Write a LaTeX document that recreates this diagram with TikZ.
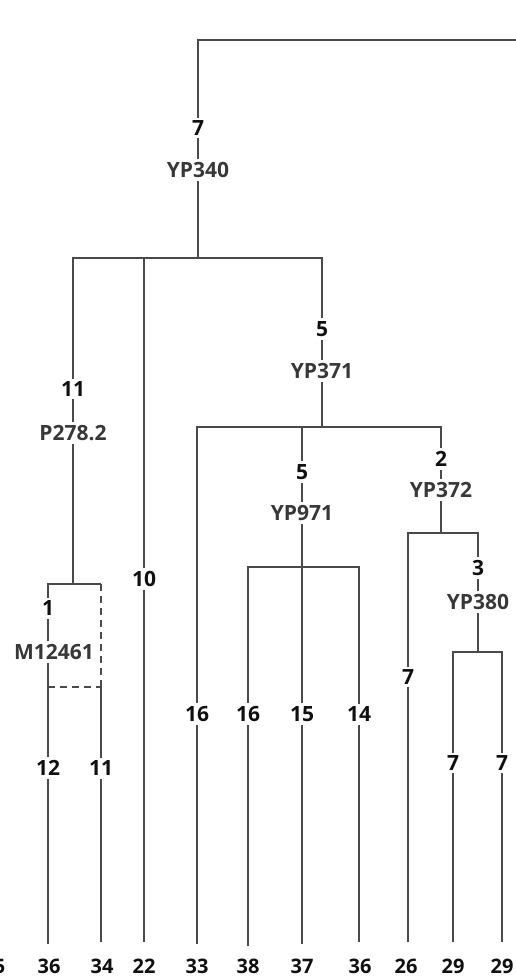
\documentclass[tikz,border=0pt]{standalone}
\usepackage{fontspec}
\setmainfont{Open Sans}
\definecolor{edgec}{HTML}{4A4A4A}
\definecolor{namec}{HTML}{383838}
\definecolor{numc}{HTML}{101010}
\begin{document}
\begin{tikzpicture}[x=1pt,y=-1pt,
  edge/.style={draw=edgec,line width=2.4pt},
  dashedge/.style={edge,dash pattern=on 7pt off 5pt},
  lbl/.style={fill=white,inner xsep=1.5pt,inner ysep=3pt,font=\fontsize{21}{23}\selectfont\bfseries},
  num/.style={lbl,text=numc},
  nm/.style={lbl,text=namec},
  leaf/.style={inner sep=0.5pt,text depth=0pt,font=\fontsize{20}{22}\selectfont\bfseries,text=numc}]
\useasboundingbox (0,0) rectangle (516,979);
\fill[white] (0,0) rectangle (516,979);

% junction coordinates
\coordinate (tr) at (520,40);
\coordinate (tl) at (198,40);
\coordinate (j340) at (198,258);
\coordinate (j340L) at (73,258);
\coordinate (j340M) at (144,258);
\coordinate (j340R) at (322,258);
\coordinate (j278) at (73,584);
\coordinate (j278L) at (48,584);
\coordinate (j278R) at (101,584);
\coordinate (dL) at (48,687);
\coordinate (dR) at (101,687);
\coordinate (j371) at (322,427);
\coordinate (j371L) at (197,427);
\coordinate (j371M) at (302,427);
\coordinate (j371R) at (441,427);
\coordinate (j971) at (302,567);
\coordinate (j971L) at (248,567);
\coordinate (j971R) at (359,567);
\coordinate (j372) at (441,533);
\coordinate (j372L) at (408,533);
\coordinate (j372R) at (478,533);
\coordinate (j380) at (478,652);
\coordinate (j380L) at (453,652);
\coordinate (j380R) at (502,652);
% leaf ends
\coordinate (e1) at (48,944);
\coordinate (e2) at (101,942);
\coordinate (e3) at (144,942);
\coordinate (e4) at (197,944);
\coordinate (e5) at (248,946);
\coordinate (e6) at (302,944);
\coordinate (e7) at (359,942);
\coordinate (e8) at (408,942);
\coordinate (e9) at (453,942);
\coordinate (e10) at (502,942);

% branches
\draw[edge] (tr) -- (tl) -- (j340);
\draw[edge] (j278) -- (j340L) -- (j340R) -- (j371);
\draw[edge] (j340M) -- (e3);
\draw[edge] (e1) -- (j278L) -- (j278R);
\draw[dashedge] (j278R) -- (dR);
\draw[dashedge] (dL) -- (dR);
\draw[edge] (dR) -- (e2);
\draw[edge] (e4) -- (j371L) -- (j371R) -- (j372);
\draw[edge] (j371M) -- (e6);
\draw[edge] (e5) -- (j971L) -- (j971R) -- (e7);
\draw[edge] (e8) -- (j372L) -- (j372R) -- (j380);
\draw[edge] (e9) -- (j380L) -- (j380R) -- (e10);

% branch labels
\node[num] (b340) at (198,128) {7};
\node[nm]  (n340) at (198,170) {YP340};
\node[num] (b278) at (73,389) {11};
\node[nm]  (n278) at (73,433) {P278.2};
\node[num] (b22) at (144,579) {10};
\node[num] (b371) at (322,329) {5};
\node[nm]  (n371) at (322,371) {YP371};
\node[num] (b461) at (48,608) {1};
\node[nm,inner xsep=0.5pt] (n461) at (54,652) {M12461};
\node[num] (b36a) at (48,768) {12};
\node[num] (b34) at (101,768) {11};
\node[num] (b33) at (197,714) {16};
\node[num] (b971) at (302,472) {5};
\node[nm]  (n971) at (302,513) {YP971};
\node[num] (b38) at (248,714) {16};
\node[num] (b37) at (302,714) {15};
\node[num] (b36b) at (359,714) {14};
\node[num] (b372) at (441,459) {2};
\node[nm]  (n372) at (441,490) {YP372};
\node[num] (b26) at (408,677) {7};
\node[num] (b380) at (478,568) {3};
\node[nm]  (n380) at (478,602) {YP380};
\node[num] (b29a) at (453,763) {7};
\node[num] (b29b) at (502,763) {7};

% leaf labels
\node[leaf,anchor=east] (l0) at (6,966) {35};
\node[leaf] (l1) at (49,966) {36};
\node[leaf] (l2) at (102,966) {34};
\node[leaf] (l3) at (144,966) {22};
\node[leaf] (l4) at (197,966) {33};
\node[leaf] (l5) at (248,966) {38};
\node[leaf] (l6) at (302,966) {37};
\node[leaf] (l7) at (360,966) {36};
\node[leaf] (l8) at (406,966) {26};
\node[leaf] (l9) at (453,966) {29};
\node[leaf] (l10) at (502,966) {29};
\end{tikzpicture}
\end{document}
